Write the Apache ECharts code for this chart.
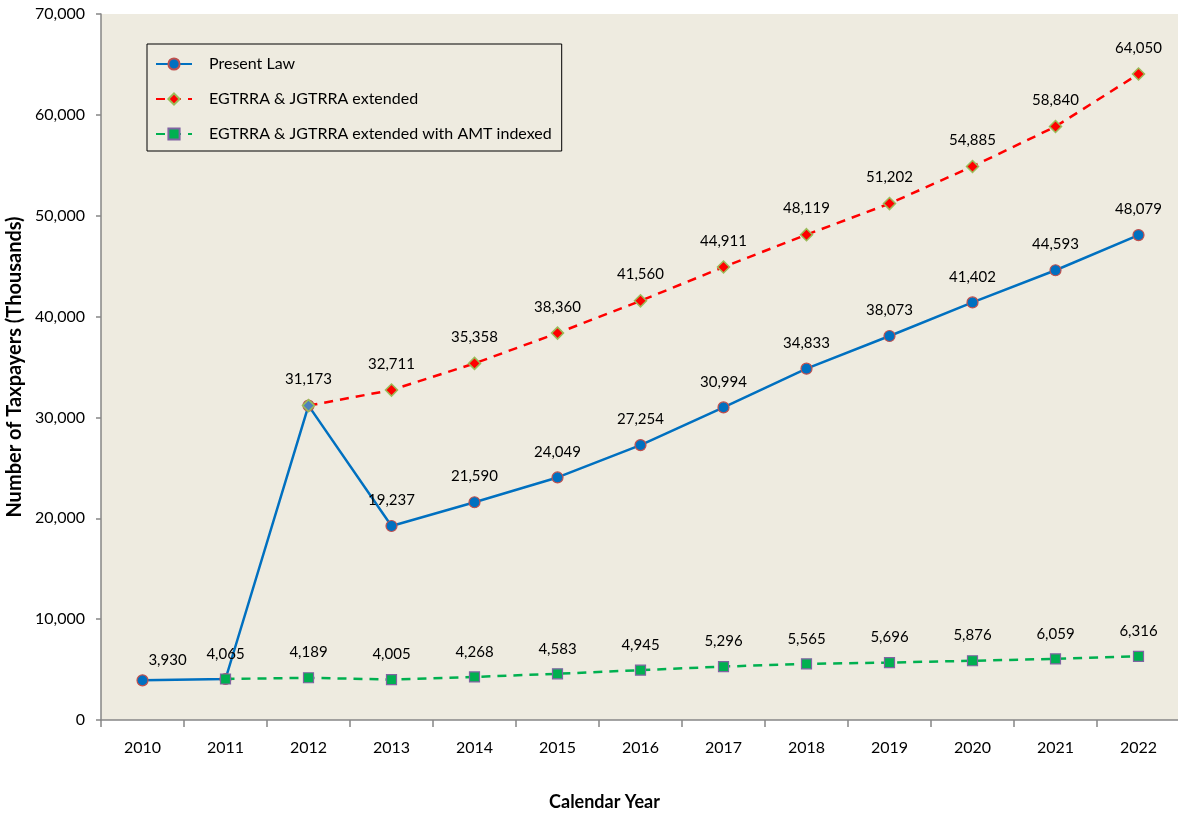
<!DOCTYPE html>
<html>
<head>
<meta charset="utf-8">
<script src="https://cdn.jsdelivr.net/npm/echarts@6/dist/echarts.min.js"></script>
<style>
html,body{margin:0;padding:0;background:#fff;}
#chart{width:1178px;height:816px;}
</style>
</head>
<body>
<div id="chart"></div>
<script>
const years = ['2010','2011','2012','2013','2014','2015','2016','2017','2018','2019','2020','2021','2022'];
const presentLaw = [3930, 4065, 31173, 19237, 21590, 24049, 27254, 30994, 34833, 38073, 41402, 44593, 48079];
const extended = [null, null, 31173, 32711, 35358, 38360, 41560, 44911, 48119, 51202, 54885, 58840, 64050];
const extendedAMT = [null, 4065, 4189, 4005, 4268, 4583, 4945, 5296, 5565, 5696, 5876, 6059, 6316];
const seriesNames = ['Present Law', 'EGTRRA & JGTRRA extended', 'EGTRRA & JGTRRA extended with AMT indexed'];
const yTicks = {min: 0, max: 70000, interval: 10000};

const FONT = 'Lato, "Open Sans", sans-serif';
const fmt = v => Number(v).toLocaleString('en-US');

const chart = echarts.init(document.getElementById('chart'));

const labelBase = {
  show: true, position: 'top', distance: 12, color: '#000',
  fontFamily: FONT, fontSize: 15,
  formatter: p => fmt(p.value)
};

// Present Law data: hide labels that overlap other series' labels
const plData = presentLaw.map((v, i) => {
  if (i === 0) return {value: v, label: {offset: [25, 5]}};
  if (i === 1 || i === 2) return {value: v, label: {show: false}};
  return v;
});
const exData = extended.map((v, i) => {
  if (i === 2) return {value: v, itemStyle: {color: '#4F81BD'}};
  return v;
});

chart.setOption({
  animation: false,
  backgroundColor: '#ffffff',
  grid: {
    left: 101, right: -2, top: 14, bottom: 96,
    show: true, backgroundColor: '#EEEBE0', borderWidth: 0,
    containLabel: false, outerBoundsMode: 'none'
  },
  legend: {
    orient: 'vertical', left: 147, top: 44,
    padding: [12, 10, 9, 8],
    itemGap: 19, itemWidth: 36, itemHeight: 14,
    borderColor: '#000', borderWidth: 1,
    backgroundColor: '#EEEBE0',
    textStyle: {fontFamily: FONT, fontSize: 16, color: '#000', padding: [0, 0, 0, 12]},
    data: seriesNames
  },
  xAxis: {
    type: 'category', data: years, boundaryGap: true,
    name: 'Calendar Year', nameLocation: 'middle', nameGap: 73,
    nameTextStyle: {fontFamily: FONT, fontSize: 18, fontWeight: 'bold', color: '#000', padding: [0, 72, 0, 0]},
    axisLine: {lineStyle: {color: '#868686', width: 1.5}},
    axisTick: {show: true, alignWithLabel: false, length: 7, lineStyle: {color: '#868686', width: 1.5}},
    axisLabel: {fontFamily: FONT, fontSize: 16, color: '#000', margin: 20},
    splitLine: {show: false}
  },
  yAxis: {
    type: 'value', min: yTicks.min, max: yTicks.max, interval: yTicks.interval,
    name: 'Number of Taxpayers (Thousands)', nameLocation: 'middle', nameGap: 74, nameRotate: 90,
    nameTextStyle: {fontFamily: FONT, fontSize: 20, fontWeight: 'bold', color: '#000'},
    axisLine: {show: true, lineStyle: {color: '#868686', width: 1.5}},
    axisTick: {show: true, inside: false, length: 5, lineStyle: {color: '#868686', width: 1.5}},
    axisLabel: {fontFamily: FONT, fontSize: 16, color: '#000', margin: 16, formatter: v => fmt(v)},
    splitLine: {show: false}
  },
  series: [
    {
      name: seriesNames[0], type: 'line', data: plData, z: 2,
      symbol: 'circle', symbolSize: 11, showAllSymbol: true,
      lineStyle: {color: '#0070C0', width: 2.5},
      itemStyle: {color: '#0070C0', borderColor: '#C0504D', borderWidth: 1.2},
      label: labelBase
    },
    {
      name: seriesNames[1], type: 'line', data: exData, z: 3,
      symbol: 'diamond', symbolSize: 12, showAllSymbol: true, connectNulls: false,
      lineStyle: {color: '#FF0000', width: 2.5, type: [9, 7]},
      itemStyle: {color: '#FF0000', borderColor: '#9BBB59', borderWidth: 1.5},
      label: labelBase
    },
    {
      name: seriesNames[2], type: 'line', data: extendedAMT, z: 4,
      symbol: 'rect', symbolSize: 10, showAllSymbol: true, connectNulls: false,
      lineStyle: {color: '#00B050', width: 2.5, type: [9, 7]},
      itemStyle: {color: '#00B050', borderColor: '#8064A2', borderWidth: 1.2},
      label: labelBase
    }
  ]
});
</script>
</body>
</html>
